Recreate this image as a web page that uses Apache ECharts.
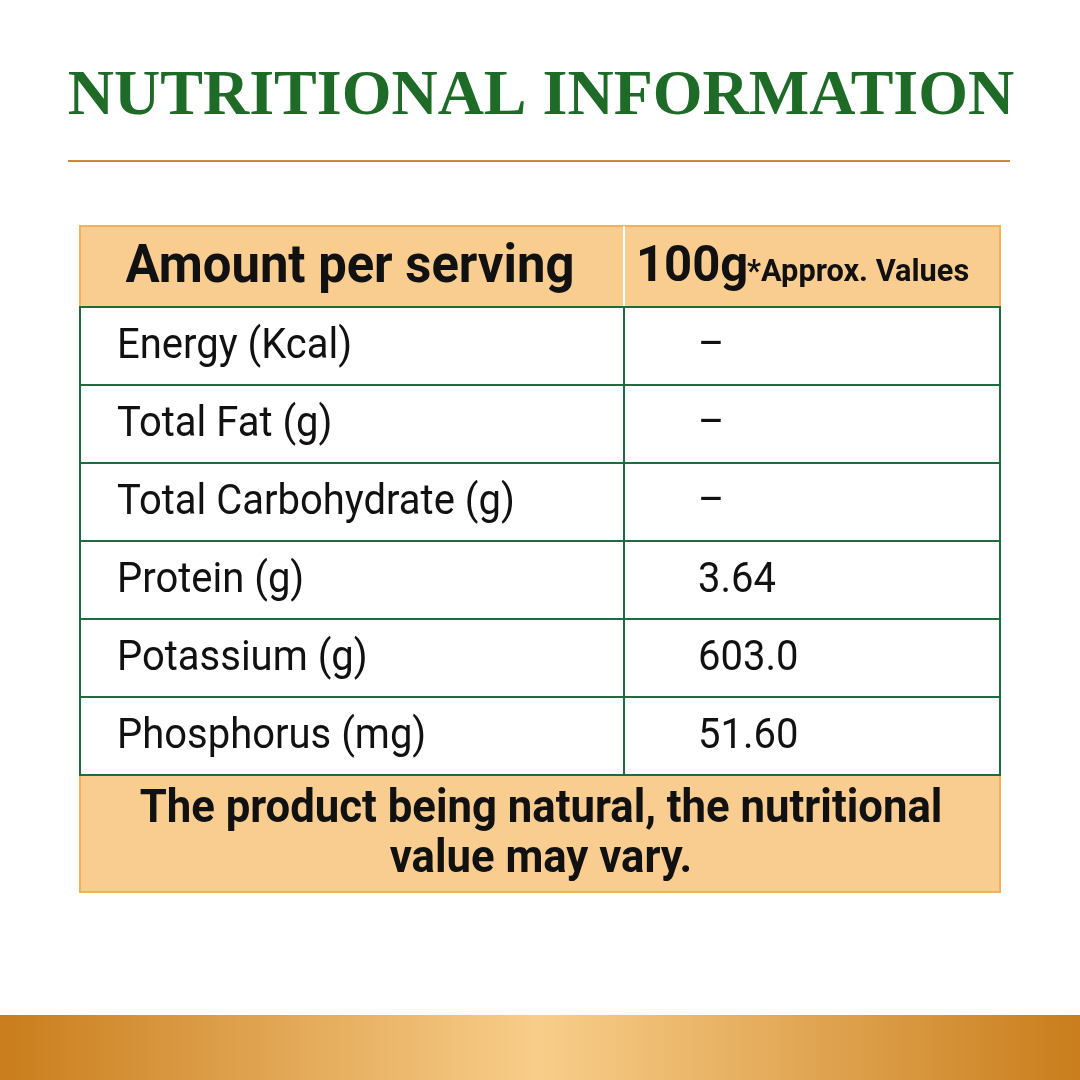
<!DOCTYPE html>
<html><head><meta charset="utf-8">
<script src="https://cdn.jsdelivr.net/npm/echarts@6/dist/echarts.min.js"></script>
<style>html,body{margin:0;padding:0;background:#fff}#c{width:1080px;height:1080px}</style>
</head><body><div id="c"></div>
<script>
const title = "NUTRITIONAL INFORMATION";
const headerLeft = "Amount per serving";
const headerRight = "100g";
const headerNote = "*Approx. Values";
const nutrients = ["Energy (Kcal)", "Total Fat (g)", "Total Carbohydrate (g)", "Protein (g)", "Potassium (g)", "Phosphorus (mg)"];
const values = ["–", "–", "–", "3.64", "603.0", "51.60"];
const footer = ["The product being natural, the nutritional", "value may vary."];

const chart = echarts.init(document.getElementById('c'));
const L = 80, R = 1000, MID = 624, HT = 226, HB = 307, RH = 78;
const green = '#1d6b3e', fill = '#f9cd8f', fillBorder = '#f0b25c';
const g = [];
g.push({type:'rect', shape:{x:0,y:1015,width:1080,height:65}, style:{fill:new echarts.graphic.LinearGradient(0,0,1,0,[{offset:0,color:'#c97d1c'},{offset:0.5,color:'#f8ce8a'},{offset:1,color:'#c97d1c'}])}});
g.push({type:'text', x:541, y:97, style:{text:title, font:'bold 64px "Liberation Serif", serif', fill:'#1e6b28', textAlign:'center', textVerticalAlign:'middle'}});
g.push({type:'line', shape:{x1:68,y1:161,x2:1010,y2:161}, style:{stroke:'#c8893a', lineWidth:2}});
g.push({type:'rect', shape:{x:L,y:HT,width:R-L,height:HB-HT}, style:{fill:fill, stroke:fillBorder, lineWidth:2}});
g.push({type:'line', shape:{x1:MID,y1:HT,x2:MID,y2:HB}, style:{stroke:'#fff', lineWidth:2}});
g.push({type:'text', x:350, y:268, scaleX:0.94, style:{text:headerLeft, font:'bold 54px Roboto', fill:'#111', textAlign:'center', textVerticalAlign:'middle'}});
g.push({type:'text', x:636, y:268, scaleX:0.98, style:{text:headerRight, font:'bold 50px Roboto', fill:'#111', textAlign:'left', textVerticalAlign:'middle'}});
g.push({type:'text', x:747, y:273, scaleX:0.96, style:{text:headerNote, font:'bold 32px Roboto', fill:'#111', textAlign:'left', textVerticalAlign:'middle'}});
const rowsBottom = HB + RH*nutrients.length;
g.push({type:'rect', shape:{x:L,y:rowsBottom,width:R-L,height:892-rowsBottom}, style:{fill:fill, stroke:fillBorder, lineWidth:2}});
nutrients.forEach((n,i)=>{
  const y0 = HB + RH*i;
  g.push({type:'rect', shape:{x:L,y:y0,width:R-L,height:RH}, style:{fill:'none', stroke:green, lineWidth:2}});
  g.push({type:'text', x:117, y:y0+RH/2+1, scaleX:0.93, style:{text:n, font:'43px Roboto', fill:'#111', textAlign:'left', textVerticalAlign:'middle'}});
  g.push({type:'text', x:698, y:y0+RH/2+1, scaleX:0.93, style:{text:values[i], font:'43px Roboto', fill:'#111', textAlign:'left', textVerticalAlign:'middle'}});
});
g.push({type:'line', shape:{x1:MID,y1:HB,x2:MID,y2:rowsBottom}, style:{stroke:green, lineWidth:2}});
footer.forEach((t,i)=>{
  g.push({type:'text', x:541, y:810+i*50, scaleX:0.95, style:{text:t, font:'bold 46px Roboto', fill:'#111', textAlign:'center', textVerticalAlign:'middle'}});
});
chart.setOption({animation:false, graphic:g});
</script></body></html>
